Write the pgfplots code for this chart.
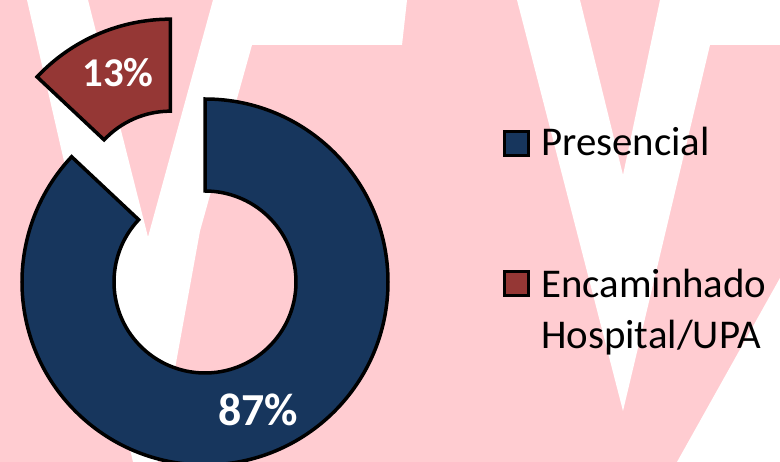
\documentclass[border=0pt]{standalone}
\usepackage{pgfplots}
\pgfplotsset{compat=1.18}
\usepackage{pgfplotstable}
\usepackage{fontspec}
\setmainfont{Carlito}
\usetikzlibrary{calc}
\definecolor{bgpink}{RGB}{255,204,209}
\definecolor{pblue}{RGB}{23,54,93}
\definecolor{pred}{RGB}{149,55,53}
\pgfplotstableread{
label value
Presencial 87
Encaminhado 13
}\donutdata
\begin{document}
\begin{tikzpicture}
\pgfplotstablegetelem{0}{value}\of\donutdata \let\vA\pgfplotsretval
\pgfplotstablegetelem{1}{value}\of\donutdata \let\vB\pgfplotsretval
\pgfmathsetmacro\fracA{\vA/(\vA+\vB)}
\pgfmathsetmacro\fracB{\vB/(\vA+\vB)}
\pgfmathsetmacro\endA{90-360*\fracA}
\pgfmathsetmacro\endB{90+360*\fracB}
\pgfmathsetmacro\midB{(90+\endB)/2}
\begin{axis}[x=1bp,y=1bp,xmin=0,xmax=780,ymin=0,ymax=462,hide axis,
  at={(0,0)},anchor=origin,clip=true]
% background watermark
\fill[bgpink] (axis cs:0,0) rectangle (axis cs:780,462);
\fill[white] (axis cs:27,462) -- (axis cs:88,462) -- (axis cs:148,225) -- (axis cs:213,462)
  -- (axis cs:407,462) -- (axis cs:402,417) -- (axis cs:252,417) -- (axis cs:200,231)
  -- (axis cs:158,0) -- (axis cs:133,0) -- cycle;
\fill[white] (axis cs:517,462) -- (axis cs:580,462) -- (axis cs:623,287) -- (axis cs:660,462)
  -- (axis cs:780,462) -- (axis cs:780,417) -- (axis cs:710,417) -- (axis cs:623,51) -- cycle;
\fill[white] (axis cs:780,184) -- (axis cs:677,0) -- (axis cs:780,0) -- cycle;
% donut
\coordinate (C) at (axis cs:205,180);
\coordinate (C2) at ($(C)+(\midB:87bp)$);
\draw[fill=pblue, line width=3.5bp, line join=miter]
  ($(C)+(90:183bp)$) arc[start angle=90,end angle=\endA,radius=183bp]
  -- ($(C)+(\endA:91bp)$) arc[start angle=\endA,end angle=90,radius=91bp] -- cycle;
\draw[fill=pred, line width=3.5bp, line join=miter]
  ($(C2)+(90:183bp)$) arc[start angle=90,end angle=\endB,radius=183bp]
  -- ($(C2)+(\endB:91bp)$) arc[start angle=\endB,end angle=90,radius=91bp] -- cycle;
\node[white, font=\bfseries\fontsize{41}{49}\selectfont, anchor=base, inner sep=0] at (axis cs:118,376) {13\%};
\node[white, font=\bfseries\fontsize{46}{55}\selectfont, anchor=base, inner sep=0] at (axis cs:258,37) {87\%};
% legend
\draw[fill=pblue, line width=3bp] (axis cs:504.5,306.5) rectangle (axis cs:528.5,330.5);
\draw[fill=pred, line width=3bp] (axis cs:504.5,166.5) rectangle (axis cs:528.5,190.5);
\node[anchor=base west, inner sep=0, font=\fontsize{41}{51}\selectfont] at (axis cs:541,307) {Presencial};
\node[anchor=base west, inner sep=0, font=\fontsize{41}{51}\selectfont] at (axis cs:541,165) {Encaminhado};
\node[anchor=base west, inner sep=0, font=\fontsize{41}{51}\selectfont] at (axis cs:541,114) {Hospital/UPA};
\end{axis}
\pgfresetboundingbox
\useasboundingbox (0,0) rectangle (780bp,462bp);
\end{tikzpicture}
\end{document}
